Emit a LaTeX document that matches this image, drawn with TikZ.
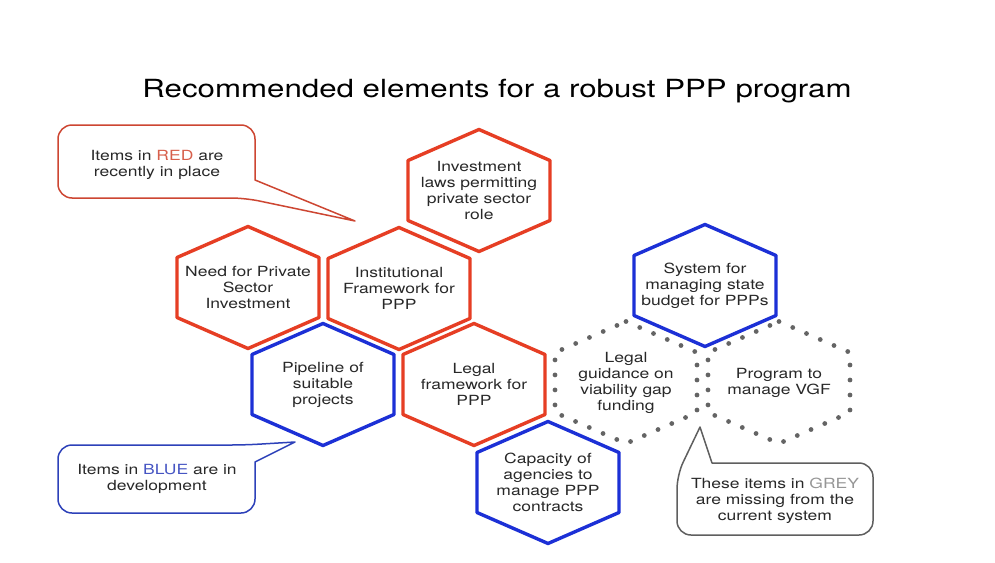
\documentclass[tikz,border=0pt]{standalone}
\usepackage{fontspec}
\setmainfont[FakeStretch=1.25]{TeX Gyre Heros}
\definecolor{cred}{RGB}{230,62,36}
\definecolor{cblue}{RGB}{28,48,214}
\definecolor{cdot}{RGB}{100,100,100}
\definecolor{ctxt}{RGB}{40,40,40}
\definecolor{credcall}{RGB}{205,70,50}
\definecolor{cbluecall}{RGB}{45,65,185}
\definecolor{cgreycall}{RGB}{95,95,95}
\definecolor{credword}{RGB}{215,95,75}
\definecolor{cblueword}{RGB}{70,85,195}
\definecolor{cgreyword}{RGB}{150,150,150}
\newcommand\hexshape[2]{\draw[#1] (#2.center) ++(0,-61) -- ++(71,31) -- ++(0,60) -- ++(-71,31) -- ++(-71,-31) -- ++(0,-60) -- cycle;}
\tikzset{
  redhex/.style={draw=cred, line width=3.4pt, line join=round},
  bluehex/.style={draw=cblue, line width=3.4pt, line join=round},
  greyhex/.style={draw=cdot, line width=4.8pt, line cap=round, dash pattern=on 0pt off 15pt},
  hextext/.style={align=center, font=\fontsize{14}{16}\selectfont, text=ctxt, inner sep=0pt, yshift=-1.5pt},
  redcall/.style={draw=credcall, line width=1.5pt, line join=round},
  bluecall/.style={draw=cbluecall, line width=1.5pt, line join=round},
  greycall/.style={draw=cgreycall, line width=1.5pt, line join=round},
}
\begin{document}
\begin{tikzpicture}[x=1pt,y=-1pt]
\useasboundingbox[fill=white] (0,0) rectangle (995,562);
\node[anchor=base, font=\fontsize{25}{28}\selectfont, text=black] (title) at (497,97) {Recommended elements for a robust PPP program};

\node[hextext] (inv) at (479,189) {Investment\\laws permitting\\private sector\\role};
\node[hextext] (need) at (248,286) {Need for Private\\Sector\\Investment};
\node[hextext] (inst) at (399,287) {Institutional\\Framework for\\PPP};
\node[hextext] (pipe) at (323,383) {Pipeline of\\suitable\\projects};
\node[hextext] (legal) at (474,383) {Legal\\framework for\\PPP};
\node[hextext] (cap) at (548,481) {Capacity of\\agencies to\\manage PPP\\contracts};
\node[hextext] (sys) at (705,284) {System for\\managing state\\budget for PPPs};
\node[hextext] (guid) at (626,381) {Legal\\guidance on\\viability gap\\funding};
\node[hextext] (vgf) at (779,381) {Program to\\manage VGF};

\hexshape{redhex}{inv}
\hexshape{redhex}{need}
\hexshape{redhex}{inst}
\hexshape{redhex}{legal}
\hexshape{bluehex}{pipe}
\hexshape{bluehex}{cap}
\hexshape{bluehex}{sys}
\hexshape{greyhex}{guid}
\hexshape{greyhex}{vgf}

% callouts
\draw[redcall] (355,221) -- (255,180) [rounded corners=14] -- (255,125) -- (58,125) -- (58,198) -- (245,198) [sharp corners] -- cycle;
\node[hextext] (redlbl) at (157,163) {Items in {\color{credword}RED} are\\recently in place};

\draw[bluecall] (295,442) -- (255,462) [rounded corners=14] -- (255,513) -- (58,513) -- (58,445) -- (245,445) [sharp corners] -- cycle;
\node[hextext] (bluelbl) at (157,477) {Items in {\color{cblueword}BLUE} are in\\development};

\draw[greycall] (700,427) -- (712,463) [rounded corners=14] -- (873,463) -- (873,535) -- (677,535) -- (677,475) [sharp corners] -- cycle;
\node[hextext] (greylbl) at (775,499) {These items in {\color{cgreyword}GREY}\\are missing from the\\current system};
\end{tikzpicture}
\end{document}
